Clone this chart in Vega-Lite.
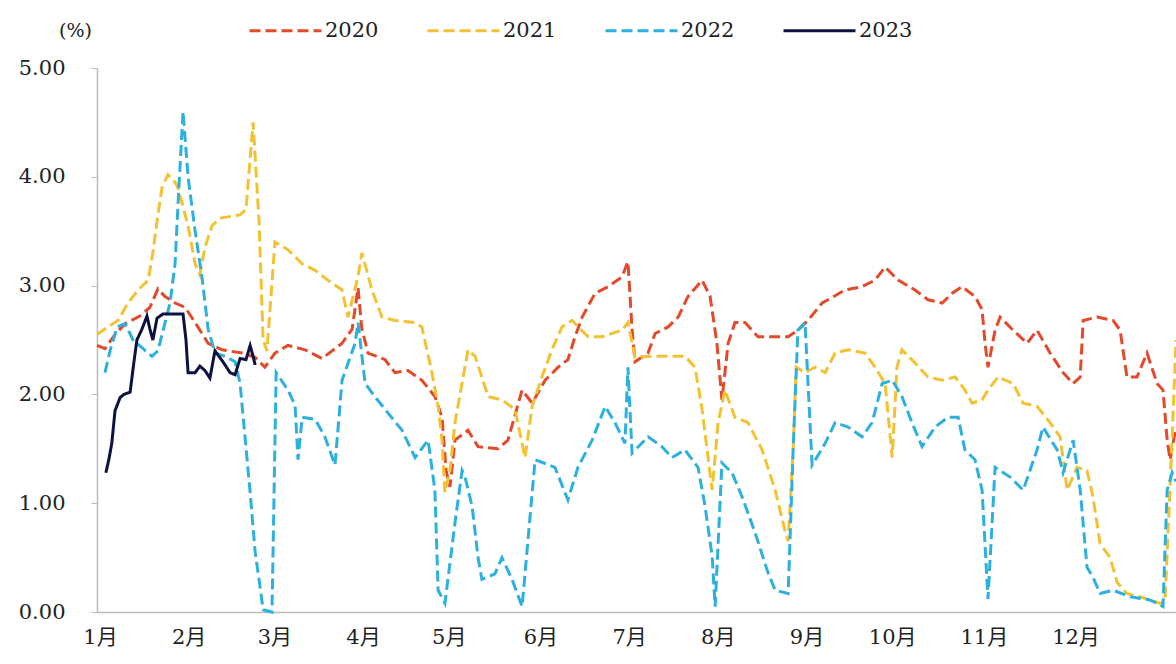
{
  "$schema": "https://vega.github.io/schema/vega-lite/v6.json",
  "width": 1079,
  "height": 544,
  "autosize": {"type": "none"},
  "padding": {"left": 97, "top": 68, "right": 0, "bottom": 52},
  "background": "white",
  "config": {
    "view": {"stroke": null},
    "font": "DejaVu Serif"
  },
  "data": {"values": [
{"year":"2020","day":0,"rate":2.45},{"year":"2020","day":2.7,"rate":2.42},{"year":"2020","day":6.1,"rate":2.55},{"year":"2020","day":9.5,"rate":2.65},{"year":"2020","day":14.5,"rate":2.72},{"year":"2020","day":17.9,"rate":2.8},{"year":"2020","day":20.6,"rate":2.97},{"year":"2020","day":23,"rate":2.9},{"year":"2020","day":26.4,"rate":2.84},{"year":"2020","day":29.8,"rate":2.8},{"year":"2020","day":33.2,"rate":2.66},{"year":"2020","day":37.6,"rate":2.47},{"year":"2020","day":42.3,"rate":2.41},{"year":"2020","day":49.1,"rate":2.38},{"year":"2020","day":53.5,"rate":2.34},{"year":"2020","day":56.8,"rate":2.25},{"year":"2020","day":60.2,"rate":2.38},{"year":"2020","day":64.6,"rate":2.45},{"year":"2020","day":70.4,"rate":2.41},{"year":"2020","day":76.1,"rate":2.33},{"year":"2020","day":82.9,"rate":2.47},{"year":"2020","day":86.3,"rate":2.6},{"year":"2020","day":88.3,"rate":2.98},{"year":"2020","day":89.6,"rate":2.6},{"year":"2020","day":91.7,"rate":2.38},{"year":"2020","day":97.4,"rate":2.32},{"year":"2020","day":100.8,"rate":2.2},{"year":"2020","day":105.2,"rate":2.22},{"year":"2020","day":109.9,"rate":2.13},{"year":"2020","day":114.3,"rate":1.98},{"year":"2020","day":116.7,"rate":1.79},{"year":"2020","day":118.1,"rate":1.3},{"year":"2020","day":119.4,"rate":1.15},{"year":"2020","day":121.1,"rate":1.58},{"year":"2020","day":125.5,"rate":1.67},{"year":"2020","day":128.9,"rate":1.52},{"year":"2020","day":135.7,"rate":1.5},{"year":"2020","day":139,"rate":1.58},{"year":"2020","day":143.8,"rate":2.04},{"year":"2020","day":147.2,"rate":1.92},{"year":"2020","day":151.6,"rate":2.13},{"year":"2020","day":156,"rate":2.25},{"year":"2020","day":159.3,"rate":2.32},{"year":"2020","day":161.7,"rate":2.53},{"year":"2020","day":164.1,"rate":2.71},{"year":"2020","day":168.5,"rate":2.93},{"year":"2020","day":172.9,"rate":2.99},{"year":"2020","day":177.6,"rate":3.08},{"year":"2020","day":179.6,"rate":3.22},{"year":"2020","day":181,"rate":2.6},{"year":"2020","day":182,"rate":2.3},{"year":"2020","day":186.4,"rate":2.38},{"year":"2020","day":188.8,"rate":2.56},{"year":"2020","day":193.2,"rate":2.62},{"year":"2020","day":196.6,"rate":2.71},{"year":"2020","day":199.9,"rate":2.9},{"year":"2020","day":204.7,"rate":3.05},{"year":"2020","day":207.4,"rate":2.9},{"year":"2020","day":209.7,"rate":2.47},{"year":"2020","day":211.4,"rate":1.95},{"year":"2020","day":213.5,"rate":2.47},{"year":"2020","day":215.8,"rate":2.66},{"year":"2020","day":219.2,"rate":2.66},{"year":"2020","day":223.6,"rate":2.53},{"year":"2020","day":229.4,"rate":2.53},{"year":"2020","day":233.8,"rate":2.53},{"year":"2020","day":237.1,"rate":2.59},{"year":"2020","day":240.5,"rate":2.68},{"year":"2020","day":245.3,"rate":2.84},{"year":"2020","day":247.3,"rate":2.87},{"year":"2020","day":253,"rate":2.96},{"year":"2020","day":258.8,"rate":2.99},{"year":"2020","day":263.2,"rate":3.05},{"year":"2020","day":266.6,"rate":3.17},{"year":"2020","day":271,"rate":3.05},{"year":"2020","day":276.7,"rate":2.96},{"year":"2020","day":281.1,"rate":2.87},{"year":"2020","day":285.9,"rate":2.84},{"year":"2020","day":289.3,"rate":2.93},{"year":"2020","day":292.6,"rate":2.99},{"year":"2020","day":297,"rate":2.9},{"year":"2020","day":299.4,"rate":2.78},{"year":"2020","day":300.4,"rate":2.47},{"year":"2020","day":301.4,"rate":2.25},{"year":"2020","day":303.8,"rate":2.59},{"year":"2020","day":305.5,"rate":2.71},{"year":"2020","day":309.9,"rate":2.59},{"year":"2020","day":314.6,"rate":2.47},{"year":"2020","day":318,"rate":2.59},{"year":"2020","day":322.4,"rate":2.38},{"year":"2020","day":326.8,"rate":2.2},{"year":"2020","day":330.2,"rate":2.1},{"year":"2020","day":332.6,"rate":2.16},{"year":"2020","day":333.6,"rate":2.68},{"year":"2020","day":338.3,"rate":2.71},{"year":"2020","day":343.7,"rate":2.68},{"year":"2020","day":346.1,"rate":2.59},{"year":"2020","day":348.4,"rate":2.16},{"year":"2020","day":351.8,"rate":2.16},{"year":"2020","day":355.2,"rate":2.38},{"year":"2020","day":358.6,"rate":2.1},{"year":"2020","day":360.6,"rate":2.04},{"year":"2020","day":362,"rate":1.58},{"year":"2020","day":363,"rate":1.4},{"year":"2020","day":365,"rate":1.7},
{"year":"2021","day":0,"rate":2.55},{"year":"2021","day":3.7,"rate":2.62},{"year":"2021","day":7.1,"rate":2.68},{"year":"2021","day":10.5,"rate":2.84},{"year":"2021","day":13.9,"rate":2.96},{"year":"2021","day":17.3,"rate":3.05},{"year":"2021","day":18.9,"rate":3.3},{"year":"2021","day":20.6,"rate":3.65},{"year":"2021","day":22,"rate":3.9},{"year":"2021","day":24,"rate":4.02},{"year":"2021","day":26.4,"rate":3.95},{"year":"2021","day":27.4,"rate":3.9},{"year":"2021","day":30.8,"rate":3.55},{"year":"2021","day":33.2,"rate":3.2},{"year":"2021","day":34.8,"rate":3.1},{"year":"2021","day":36.5,"rate":3.35},{"year":"2021","day":38.9,"rate":3.55},{"year":"2021","day":41.6,"rate":3.62},{"year":"2021","day":48.4,"rate":3.65},{"year":"2021","day":50.4,"rate":3.7},{"year":"2021","day":52.8,"rate":4.5},{"year":"2021","day":54.8,"rate":3.6},{"year":"2021","day":56.2,"rate":2.5},{"year":"2021","day":57.5,"rate":2.4},{"year":"2021","day":60.2,"rate":3.4},{"year":"2021","day":64.6,"rate":3.33},{"year":"2021","day":69.4,"rate":3.2},{"year":"2021","day":73.8,"rate":3.14},{"year":"2021","day":78.1,"rate":3.05},{"year":"2021","day":82.9,"rate":2.96},{"year":"2021","day":84.9,"rate":2.71},{"year":"2021","day":88.3,"rate":3.08},{"year":"2021","day":89.6,"rate":3.3},{"year":"2021","day":93,"rate":2.96},{"year":"2021","day":96.4,"rate":2.71},{"year":"2021","day":100.8,"rate":2.68},{"year":"2021","day":107.6,"rate":2.66},{"year":"2021","day":109.9,"rate":2.62},{"year":"2021","day":113.3,"rate":2.2},{"year":"2021","day":115.4,"rate":1.89},{"year":"2021","day":116.7,"rate":1.58},{"year":"2021","day":117.7,"rate":1.1},{"year":"2021","day":119.4,"rate":1.3},{"year":"2021","day":121.1,"rate":1.74},{"year":"2021","day":125.5,"rate":2.41},{"year":"2021","day":127.9,"rate":2.35},{"year":"2021","day":132.3,"rate":1.98},{"year":"2021","day":137,"rate":1.95},{"year":"2021","day":141.4,"rate":1.86},{"year":"2021","day":144.8,"rate":1.42},{"year":"2021","day":147.2,"rate":1.89},{"year":"2021","day":150.5,"rate":2.16},{"year":"2021","day":153.9,"rate":2.41},{"year":"2021","day":157.3,"rate":2.62},{"year":"2021","day":160.7,"rate":2.68},{"year":"2021","day":166.1,"rate":2.53},{"year":"2021","day":170.8,"rate":2.53},{"year":"2021","day":177.6,"rate":2.59},{"year":"2021","day":179.6,"rate":2.66},{"year":"2021","day":182,"rate":2.34},{"year":"2021","day":187.8,"rate":2.35},{"year":"2021","day":198.9,"rate":2.35},{"year":"2021","day":202.3,"rate":2.25},{"year":"2021","day":204.7,"rate":1.86},{"year":"2021","day":206.7,"rate":1.42},{"year":"2021","day":208.1,"rate":1.12},{"year":"2021","day":210.1,"rate":1.74},{"year":"2021","day":212.4,"rate":2.04},{"year":"2021","day":215.8,"rate":1.79},{"year":"2021","day":220.2,"rate":1.74},{"year":"2021","day":225,"rate":1.49},{"year":"2021","day":229.4,"rate":1.12},{"year":"2021","day":232.7,"rate":0.75},{"year":"2021","day":233.8,"rate":0.65},{"year":"2021","day":235.5,"rate":1.5},{"year":"2021","day":236.5,"rate":2.25},{"year":"2021","day":239.5,"rate":2.2},{"year":"2021","day":242.9,"rate":2.25},{"year":"2021","day":246.3,"rate":2.2},{"year":"2021","day":249.7,"rate":2.38},{"year":"2021","day":254.1,"rate":2.41},{"year":"2021","day":259.8,"rate":2.38},{"year":"2021","day":263.2,"rate":2.25},{"year":"2021","day":266.6,"rate":2.1},{"year":"2021","day":269,"rate":1.42},{"year":"2021","day":270.6,"rate":2.25},{"year":"2021","day":272.3,"rate":2.41},{"year":"2021","day":276.7,"rate":2.29},{"year":"2021","day":281.1,"rate":2.16},{"year":"2021","day":285.9,"rate":2.13},{"year":"2021","day":290.3,"rate":2.16},{"year":"2021","day":293.6,"rate":2.04},{"year":"2021","day":296,"rate":1.92},{"year":"2021","day":299.4,"rate":1.95},{"year":"2021","day":301.4,"rate":2.04},{"year":"2021","day":304.8,"rate":2.16},{"year":"2021","day":309.9,"rate":2.1},{"year":"2021","day":313.3,"rate":1.92},{"year":"2021","day":318,"rate":1.89},{"year":"2021","day":322.4,"rate":1.74},{"year":"2021","day":325.8,"rate":1.61},{"year":"2021","day":328.2,"rate":1.12},{"year":"2021","day":331.5,"rate":1.33},{"year":"2021","day":334.9,"rate":1.3},{"year":"2021","day":336.9,"rate":1.06},{"year":"2021","day":339.3,"rate":0.63},{"year":"2021","day":342.7,"rate":0.5},{"year":"2021","day":345.1,"rate":0.27},{"year":"2021","day":348.4,"rate":0.17},{"year":"2021","day":352.8,"rate":0.14},{"year":"2021","day":357.2,"rate":0.1},{"year":"2021","day":359.6,"rate":0.08},{"year":"2021","day":361.3,"rate":0.1},{"year":"2021","day":363.7,"rate":1.6},{"year":"2021","day":365,"rate":2.5},
{"year":"2022","day":2.7,"rate":2.2},{"year":"2022","day":4.4,"rate":2.4},{"year":"2022","day":6.8,"rate":2.62},{"year":"2022","day":9.5,"rate":2.65},{"year":"2022","day":12.2,"rate":2.5},{"year":"2022","day":15.6,"rate":2.42},{"year":"2022","day":18.6,"rate":2.35},{"year":"2022","day":20.6,"rate":2.4},{"year":"2022","day":22,"rate":2.55},{"year":"2022","day":24.7,"rate":2.84},{"year":"2022","day":26.4,"rate":3.2},{"year":"2022","day":27.7,"rate":3.9},{"year":"2022","day":29.1,"rate":4.6},{"year":"2022","day":30.8,"rate":4.0},{"year":"2022","day":33.2,"rate":3.5},{"year":"2022","day":35.5,"rate":3.08},{"year":"2022","day":37.6,"rate":2.6},{"year":"2022","day":39.9,"rate":2.38},{"year":"2022","day":43.3,"rate":2.35},{"year":"2022","day":46.7,"rate":2.3},{"year":"2022","day":48.4,"rate":2.1},{"year":"2022","day":50.1,"rate":1.6},{"year":"2022","day":51.8,"rate":1.1},{"year":"2022","day":53.5,"rate":0.55},{"year":"2022","day":54.8,"rate":0.3},{"year":"2022","day":56.2,"rate":0.02},{"year":"2022","day":59.2,"rate":0.0},{"year":"2022","day":60.6,"rate":2.2},{"year":"2022","day":64.6,"rate":2.04},{"year":"2022","day":67,"rate":1.9},{"year":"2022","day":68,"rate":1.4},{"year":"2022","day":69.4,"rate":1.79},{"year":"2022","day":73.8,"rate":1.77},{"year":"2022","day":77.1,"rate":1.61},{"year":"2022","day":80.5,"rate":1.35},{"year":"2022","day":82.9,"rate":2.13},{"year":"2022","day":87.3,"rate":2.47},{"year":"2022","day":88.3,"rate":2.66},{"year":"2022","day":90.7,"rate":2.1},{"year":"2022","day":94,"rate":1.98},{"year":"2022","day":98.4,"rate":1.83},{"year":"2022","day":103.2,"rate":1.67},{"year":"2022","day":107.6,"rate":1.42},{"year":"2022","day":112,"rate":1.58},{"year":"2022","day":114.3,"rate":1.12},{"year":"2022","day":115.4,"rate":0.2},{"year":"2022","day":117.7,"rate":0.08},{"year":"2022","day":121.1,"rate":0.82},{"year":"2022","day":123.5,"rate":1.3},{"year":"2022","day":124.5,"rate":1.24},{"year":"2022","day":126.9,"rate":0.97},{"year":"2022","day":128.9,"rate":0.5},{"year":"2022","day":130.2,"rate":0.3},{"year":"2022","day":134.6,"rate":0.35},{"year":"2022","day":137,"rate":0.5},{"year":"2022","day":140.4,"rate":0.3},{"year":"2022","day":143.8,"rate":0.05},{"year":"2022","day":148.2,"rate":1.4},{"year":"2022","day":154.9,"rate":1.33},{"year":"2022","day":159.3,"rate":1.03},{"year":"2022","day":162.7,"rate":1.33},{"year":"2022","day":167.5,"rate":1.58},{"year":"2022","day":171.9,"rate":1.89},{"year":"2022","day":175.2,"rate":1.74},{"year":"2022","day":178.6,"rate":1.55},{"year":"2022","day":179.6,"rate":2.25},{"year":"2022","day":181,"rate":1.46},{"year":"2022","day":186.4,"rate":1.61},{"year":"2022","day":191.1,"rate":1.52},{"year":"2022","day":194.5,"rate":1.42},{"year":"2022","day":198.9,"rate":1.49},{"year":"2022","day":203.3,"rate":1.33},{"year":"2022","day":205.7,"rate":0.97},{"year":"2022","day":208.1,"rate":0.51},{"year":"2022","day":209.1,"rate":0.05},{"year":"2022","day":211.4,"rate":1.37},{"year":"2022","day":214.8,"rate":1.28},{"year":"2022","day":218.2,"rate":1.06},{"year":"2022","day":222.6,"rate":0.73},{"year":"2022","day":227,"rate":0.36},{"year":"2022","day":229.4,"rate":0.2},{"year":"2022","day":233.8,"rate":0.17},{"year":"2022","day":235.5,"rate":1.5},{"year":"2022","day":237.1,"rate":2.59},{"year":"2022","day":239.5,"rate":2.66},{"year":"2022","day":241.9,"rate":1.35},{"year":"2022","day":246.3,"rate":1.55},{"year":"2022","day":249.7,"rate":1.74},{"year":"2022","day":254.1,"rate":1.7},{"year":"2022","day":258.8,"rate":1.61},{"year":"2022","day":262.2,"rate":1.74},{"year":"2022","day":265.6,"rate":2.1},{"year":"2022","day":269,"rate":2.13},{"year":"2022","day":272.3,"rate":1.98},{"year":"2022","day":275.7,"rate":1.74},{"year":"2022","day":279.1,"rate":1.52},{"year":"2022","day":283.5,"rate":1.7},{"year":"2022","day":287.9,"rate":1.79},{"year":"2022","day":291.3,"rate":1.79},{"year":"2022","day":293.6,"rate":1.49},{"year":"2022","day":297,"rate":1.4},{"year":"2022","day":299.4,"rate":1.12},{"year":"2022","day":301.4,"rate":0.12},{"year":"2022","day":303.8,"rate":1.33},{"year":"2022","day":308.9,"rate":1.24},{"year":"2022","day":313.3,"rate":1.12},{"year":"2022","day":318,"rate":1.49},{"year":"2022","day":320,"rate":1.7},{"year":"2022","day":324.8,"rate":1.49},{"year":"2022","day":326.8,"rate":1.28},{"year":"2022","day":330.2,"rate":1.58},{"year":"2022","day":332.6,"rate":1.12},{"year":"2022","day":334.9,"rate":0.41},{"year":"2022","day":336.9,"rate":0.32},{"year":"2022","day":339.3,"rate":0.17},{"year":"2022","day":343.7,"rate":0.2},{"year":"2022","day":349.5,"rate":0.14},{"year":"2022","day":356.2,"rate":0.11},{"year":"2022","day":358.6,"rate":0.08},{"year":"2022","day":360.6,"rate":0.05},{"year":"2022","day":362,"rate":1.12},{"year":"2022","day":363.7,"rate":1.28},{"year":"2022","day":365,"rate":1.2},
{"year":"2023","day":3,"rate":1.28},{"year":"2023","day":4,"rate":1.4},{"year":"2023","day":5,"rate":1.55},{"year":"2023","day":6.1,"rate":1.85},{"year":"2023","day":7.8,"rate":1.97},{"year":"2023","day":9.1,"rate":2.0},{"year":"2023","day":11.2,"rate":2.02},{"year":"2023","day":12.5,"rate":2.3},{"year":"2023","day":13.5,"rate":2.5},{"year":"2023","day":15.2,"rate":2.6},{"year":"2023","day":16.9,"rate":2.72},{"year":"2023","day":17.9,"rate":2.6},{"year":"2023","day":18.9,"rate":2.5},{"year":"2023","day":20.3,"rate":2.7},{"year":"2023","day":22.3,"rate":2.74},{"year":"2023","day":25.4,"rate":2.74},{"year":"2023","day":29.1,"rate":2.74},{"year":"2023","day":30.1,"rate":2.5},{"year":"2023","day":30.8,"rate":2.2},{"year":"2023","day":33.2,"rate":2.2},{"year":"2023","day":34.8,"rate":2.26},{"year":"2023","day":36.5,"rate":2.22},{"year":"2023","day":38.2,"rate":2.15},{"year":"2023","day":39.9,"rate":2.4},{"year":"2023","day":42.6,"rate":2.3},{"year":"2023","day":45,"rate":2.2},{"year":"2023","day":46.7,"rate":2.18},{"year":"2023","day":48.4,"rate":2.33},{"year":"2023","day":50.4,"rate":2.32},{"year":"2023","day":51.8,"rate":2.45},{"year":"2023","day":52.8,"rate":2.35},{"year":"2023","day":53.5,"rate":2.27}
  ]},
  "mark": {"type": "line", "clip": false},
  "encoding": {
    "x": {
      "field": "day", "type": "quantitative",
      "scale": {"domain": [0, 365], "nice": false, "zero": false},
      "axis": {
        "title": null, "grid": false, "ticks": false,
        "values": [1, 31, 60, 90, 119, 150, 180, 210, 240, 269, 300, 331],
        "labelExpr": "(indexof([1, 31, 60, 90, 119, 150, 180, 210, 240, 269, 300, 331], datum.value) + 1) + '月'",
        "labelFont": "DejaVu Serif, Noto Sans CJK SC",
        "labelFontSize": 21, "labelColor": "#222", "labelPadding": 14,
        "domainColor": "#bbbbbb", "domainWidth": 1.5, "labelFlush": false
      }
    },
    "y": {
      "field": "rate", "type": "quantitative",
      "scale": {"domain": [0, 5], "nice": false},
      "axis": {
        "title": "(%)", "titleAngle": 0, "titleX": -22, "titleY": -38,
        "titleAlign": "center", "titleBaseline": "middle",
        "titleFont": "DejaVu Serif", "titleFontSize": 19, "titleFontWeight": "normal", "titleColor": "#222",
        "values": [0, 1, 2, 3, 4, 5], "format": ".2f", "grid": false,
        "labelFont": "DejaVu Serif", "labelFontSize": 21, "labelFontWeight": "normal", "labelColor": "#222", "labelPadding": 26,
        "tickSize": 6, "tickColor": "#bbbbbb", "domainColor": "#bbbbbb", "domainWidth": 1.5
      }
    },
    "color": {
      "field": "year", "type": "nominal",
      "scale": {"domain": ["2020", "2021", "2022", "2023"], "range": ["#E34A2B", "#F3C233", "#2DB0DD", "#0D1240"]},
      "legend": {
        "title": null, "orient": "none", "direction": "horizontal", "columns": 4,
        "legendX": 151, "legendY": -75,
        "symbolType": "stroke", "symbolSize": 5184, "symbolStrokeWidth": 3.5,
        "labelFont": "DejaVu Serif", "labelFontSize": 21, "labelColor": "#222", "labelOffset": 2,
        "columnPadding": 42
      }
    },
    "strokeDash": {
      "field": "year", "type": "nominal",
      "scale": {"domain": ["2020", "2021", "2022", "2023"], "range": [[11, 5], [11, 5], [11, 5], [1, 0]]},
      "legend": {
        "title": null, "orient": "none", "direction": "horizontal", "columns": 4,
        "legendX": 151, "legendY": -75,
        "symbolType": "stroke", "symbolSize": 5184, "symbolStrokeWidth": 3.5,
        "labelFont": "DejaVu Serif", "labelFontSize": 21, "labelColor": "#222", "labelOffset": 2,
        "columnPadding": 42
      }
    },
    "strokeWidth": {
      "field": "year", "type": "nominal",
      "scale": {"domain": ["2020", "2021", "2022", "2023"], "range": [3, 3, 3, 3.5]},
      "legend": null
    }
  }
}
